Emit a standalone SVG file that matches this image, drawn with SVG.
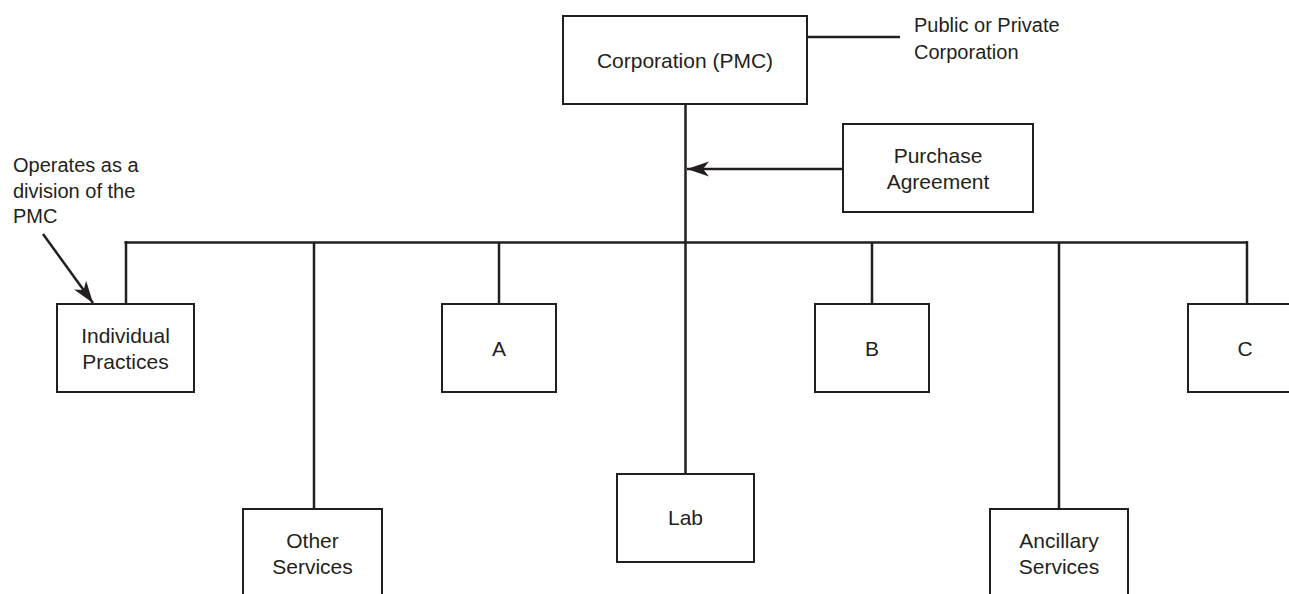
<svg xmlns="http://www.w3.org/2000/svg" width="1289" height="594" viewBox="0 0 1289 594">
  <style>
    .box { fill: #ffffff; stroke: #231f20; stroke-width: 2; }
    .line { fill: none; stroke: #231f20; stroke-width: 2.5; }
    .lbl { font-family: "Liberation Sans", Arial, sans-serif; font-size: 21px; fill: #231f20; text-anchor: middle; }
    .note { font-family: "Liberation Sans", Arial, sans-serif; font-size: 20px; fill: #231f20; }
  </style>
  <defs>
    <marker id="arrow" markerUnits="userSpaceOnUse" markerWidth="26" markerHeight="18" refX="22" refY="8" orient="auto">
      <path d="M22,8 L0,0.5 L6,8 L0,15.5 Z" fill="#231f20"/>
    </marker>
  </defs>
  <rect width="1289" height="594" fill="#ffffff"/>

  <!-- connectors -->
  <g id="connectors">
    <line class="line" x1="807" y1="37" x2="900" y2="37"/>
    <line class="line" x1="685.5" y1="104" x2="685.5" y2="474"/>
    <line class="line" x1="843" y1="169" x2="687" y2="169" marker-end="url(#arrow)"/>
    <line class="line" x1="124.5" y1="242.5" x2="1248" y2="242.5"/>
    <line class="line" x1="126" y1="241" x2="126" y2="304"/>
    <line class="line" x1="314" y1="242" x2="314" y2="509"/>
    <line class="line" x1="499" y1="242" x2="499" y2="304"/>
    <line class="line" x1="872" y1="242" x2="872" y2="304"/>
    <line class="line" x1="1059" y1="242" x2="1059" y2="509"/>
    <line class="line" x1="1247" y1="241" x2="1247" y2="304"/>
    <line class="line" x1="43" y1="234" x2="93" y2="303" marker-end="url(#arrow)"/>
  </g>

  <g id="corporation">
    <rect class="box" x="563" y="16" width="244" height="88"/>
    <text class="lbl" x="685" y="68">Corporation (PMC)</text>
  </g>

  <g id="public-private-note">
    <text class="note" x="914" y="32">Public or Private</text>
    <text class="note" x="914" y="59">Corporation</text>
  </g>

  <g id="purchase-agreement">
    <rect class="box" x="843" y="124" width="190" height="88"/>
    <text class="lbl" x="938" y="163">Purchase</text>
    <text class="lbl" x="938" y="189">Agreement</text>
  </g>

  <g id="division-note">
    <text class="note" x="13" y="172">Operates as a</text>
    <text class="note" x="13" y="197.5">division of the</text>
    <text class="note" x="13" y="223">PMC</text>
  </g>

  <g id="individual-practices">
    <rect class="box" x="57" y="304" width="137" height="88"/>
    <text class="lbl" x="125.5" y="343">Individual</text>
    <text class="lbl" x="125.5" y="369">Practices</text>
  </g>

  <g id="a">
    <rect class="box" x="442" y="304" width="114" height="88"/>
    <text class="lbl" x="499" y="356">A</text>
  </g>

  <g id="b">
    <rect class="box" x="815" y="304" width="114" height="88"/>
    <text class="lbl" x="872" y="356">B</text>
  </g>

  <g id="c">
    <rect class="box" x="1188" y="304" width="114" height="88"/>
    <text class="lbl" x="1245" y="356">C</text>
  </g>

  <g id="other-services">
    <rect class="box" x="243" y="509" width="139" height="100"/>
    <text class="lbl" x="312.5" y="548">Other</text>
    <text class="lbl" x="312.5" y="574">Services</text>
  </g>

  <g id="lab">
    <rect class="box" x="617" y="474" width="137" height="88"/>
    <text class="lbl" x="685.5" y="525">Lab</text>
  </g>

  <g id="ancillary-services">
    <rect class="box" x="990" y="509" width="138" height="100"/>
    <text class="lbl" x="1059" y="548">Ancillary</text>
    <text class="lbl" x="1059" y="574">Services</text>
  </g>
</svg>
